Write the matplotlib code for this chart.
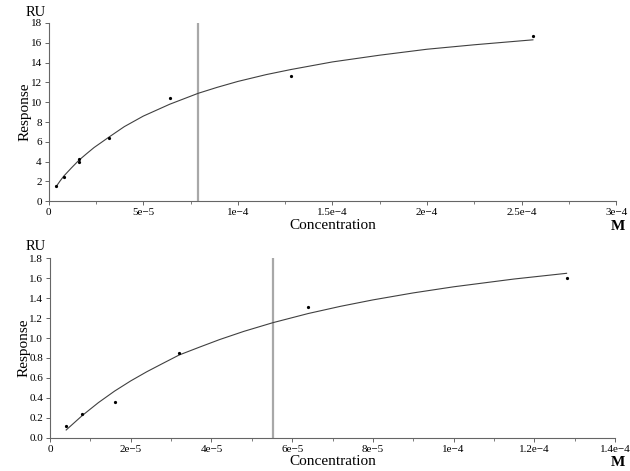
import matplotlib
matplotlib.use("Agg")
import matplotlib.pyplot as plt
from matplotlib.ticker import MultipleLocator, FuncFormatter

plt.rcParams['font.family'] = ['Liberation Serif', 'DejaVu Serif']

# --- panel 1 ---
conc_1 = [4e-6, 8e-6, 1.6e-5, 1.6e-5, 3.2e-5, 6.4e-5, 1.28e-4, 2.56e-4]
resp_1 = [1.5, 2.5, 4.0, 4.3, 6.35, 10.4, 12.6, 16.65]
fit_conc_1 = [4e-6, 6e-6, 8e-6, 1.2e-5, 1.6e-5, 2e-5, 2.4e-5, 3.2e-5, 4e-5,
              5e-5, 6.4e-5, 7.9e-5, 8.9e-5, 1.0e-4, 1.15e-4, 1.28e-4, 1.5e-4,
              1.75e-4, 2.0e-4, 2.25e-4, 2.56e-4]
fit_resp_1 = [1.5, 2.05, 2.55, 3.37, 4.15, 4.8, 5.43, 6.5, 7.54,
              8.6, 9.8, 10.9, 11.5, 12.1, 12.79, 13.3, 14.07,
              14.75, 15.35, 15.8, 16.3]
kd_1 = 7.9e-5

# --- panel 2 ---
conc_2 = [4e-6, 8e-6, 1.6e-5, 3.2e-5, 6.4e-5, 1.28e-4]
resp_2 = [0.12, 0.24, 0.36, 0.845, 1.315, 1.605]
fit_conc_2 = [4e-6, 8e-6, 1.2e-5, 1.6e-5, 2e-5, 2.4e-5, 2.8e-5, 3.2e-5, 3.7e-5,
              4.2e-5, 4.8e-5, 5.52e-5, 6.4e-5, 7.2e-5, 8e-5, 9e-5, 1.0e-4,
              1.15e-4, 1.28e-4]
fit_resp_2 = [0.08, 0.225, 0.354, 0.469, 0.571, 0.663, 0.747, 0.83, 0.908,
              0.984, 1.066, 1.153, 1.245, 1.317, 1.381, 1.451, 1.512,
              1.59, 1.647]
kd_2 = 5.52e-5


def sci(v, pos):
    if abs(v) < 1e-12:
        return "0"
    m, e = ("%.6e" % v).split("e")
    return "%ge\u2212%d" % (round(float(m), 4), abs(int(e)))


def panel(ax, c, r, fc, fr, kd, xmax, xstep, ymax, ystep, yfmt):
    ax.axvline(kd, color="#a8a8a8", lw=1.6, zorder=1)
    ax.plot(fc, fr, color="#404040", lw=0.8, zorder=2)
    ax.plot(c, r, "o", color="black", ms=1.3, zorder=3)
    ax.set_xlim(0, xmax)
    ax.set_ylim(0, ymax)
    for s in ["top", "right"]:
        ax.spines[s].set_visible(False)
    for s in ["left", "bottom"]:
        ax.spines[s].set_color("#666666")
        ax.spines[s].set_linewidth(0.8)
    ax.xaxis.set_major_locator(MultipleLocator(xstep))
    ax.xaxis.set_minor_locator(MultipleLocator(xstep / 2))
    ax.yaxis.set_major_locator(MultipleLocator(ystep))
    ax.xaxis.set_major_formatter(FuncFormatter(sci))
    ax.yaxis.set_major_formatter(FuncFormatter(yfmt))
    ax.tick_params(which="major", direction="out", length=3, width=0.7,
                   color="#666666", labelsize=8, pad=2)
    ax.tick_params(which="minor", direction="out", length=1.8, width=0.6,
                   color="#666666")
    ax.set_xlabel("Concentration", fontsize=11, labelpad=1)
    ax.set_ylabel("Response", fontsize=11, labelpad=-1)


fig = plt.figure(figsize=(6.3, 4.71), dpi=100)
ax1 = fig.add_axes([0.0773, 0.5726, 0.9007, 0.3786])
ax2 = fig.add_axes([0.0794, 0.0701, 0.8968, 0.3821])

panel(ax1, conc_1, resp_1, fit_conc_1, fit_resp_1, kd_1,
      3e-4, 5e-5, 18, 2, lambda v, p: "%d" % round(v))
panel(ax2, conc_2, resp_2, fit_conc_2, fit_resp_2, kd_2,
      1.4e-4, 2e-5, 1.8, 0.2, lambda v, p: "%.1f" % v)

fig.text(36 / 630, 1 - 13 / 471, "RU", fontsize=10.5, ha="center", va="center")
fig.text(36 / 630, 1 - 246 / 471, "RU", fontsize=10.5, ha="center", va="center")
fig.text(618 / 630, 1 - 226 / 471, "M", fontsize=11, ha="center", va="center",
         fontweight="bold")
fig.text(618 / 630, 1 - 463 / 471, "M", fontsize=11, ha="center", va="center",
         fontweight="bold")

fig.savefig("out.png", dpi=100)
